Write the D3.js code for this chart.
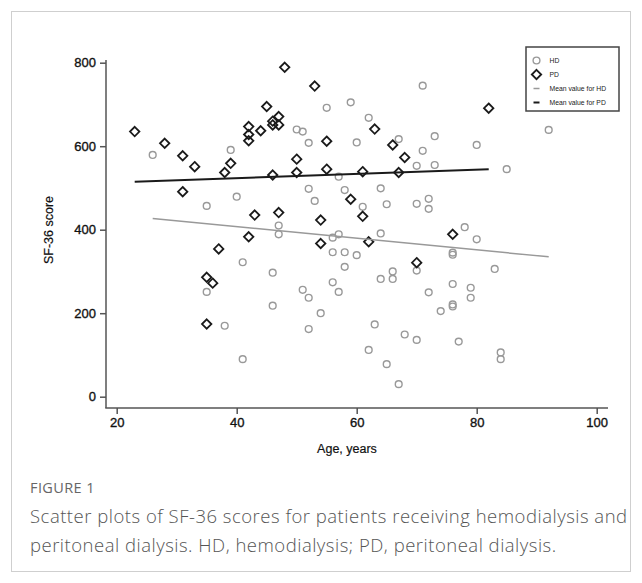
<!DOCTYPE html>
<html>
<head>
<meta charset="utf-8">
<script src="https://cdn.jsdelivr.net/npm/d3@7"></script>
<style>
  body { margin: 0; background: #fff; }
  svg text { font-family: "Liberation Sans", Arial, sans-serif; }
</style>
</head>
<body>
<div class="chart"></div>
<script>
// data: [age, SF-36 score]
let hdPoints = [
  [26,579],[39,591],[40,479],[35,457],[71,745],[59,705],[55,692],[62,668],[50,640],[51,635],
  [52,608],[60,609],[67,617],[71,589],[70,553],[57,527],[52,498],[58,495],[64,499],[53,469],
  [61,455],[65,461],[70,462],[92,639],[73,624],[80,603],[73,555],[85,545],[72,474],[72,450],
  [41,322],[35,251],[38,170],[41,90],[47,410],[47,389],[56,381],[57,389],[64,391],[56,346],
  [58,346],[60,339],[58,311],[46,297],[66,300],[64,282],[66,282],[70,302],[56,274],[57,251],
  [51,256],[52,237],[46,218],[54,200],[52,162],[63,173],[68,149],[70,136],[62,112],[65,78],
  [67,30],[78,406],[80,377],[76,345],[76,340],[83,306],[76,270],[79,261],[79,237],[72,250],
  [74,205],[76,221],[76,216],[77,132],[84,106],[84,90]
];
let pdPoints = [
  [23,635],[28,607],[31,577],[33,551],[38,537],[39,559],[42,647],[42,628],[42,613],[44,637],
  [31,491],[43,435],[48,789],[53,744],[45,695],[47,671],[46,660],[47,651],[46,651],[55,612],
  [63,641],[66,603],[68,573],[50,569],[50,537],[46,531],[55,545],[61,539],[67,537],[59,473],
  [47,441],[54,423],[61,432],[82,691],[42,383],[37,354],[35,286],[36,272],[35,174],[54,367],
  [62,371],[70,321],[76,389]
];
// mean value lines (start and end)
let hdMean = [[26,427],[92,335]];
let pdMean = [[23,515],[82,545]];

let xTicks = [20, 40, 60, 80, 100];
let yTicks = [0, 200, 400, 600, 800];
let legendLabels = ["HD", "PD", "Mean value for HD", "Mean value for PD"];

let svgW = 642;
let svgH = 583;

let svg = d3.select(".chart")
  .append("svg")
  .attr("width", svgW)
  .attr("height", svgH);

// light frame around the figure panel
svg.append("rect")
  .attr("x", 11.5).attr("y", 11.5)
  .attr("width", 619).attr("height", 560)
  .attr("fill", "none")
  .attr("stroke", "#cfcfcf");

let x = d3.scaleLinear().domain([20, 100]).range([116.7, 596.7]);
let y = d3.scaleLinear().domain([0, 800]).range([396.7, 62.7]);

let axisColor = "#555";
let axisLeftX = 106;
let axisBottomY = 408;

// y axis
let yAxis = svg.append("g")
  .attr("transform", `translate(${axisLeftX},0)`)
  .call(d3.axisLeft(y).tickValues(yTicks).tickSize(6).tickPadding(4));
// x axis
let xAxis = svg.append("g")
  .attr("transform", `translate(0,${axisBottomY})`)
  .call(d3.axisBottom(x).tickValues(xTicks).tickSize(6).tickPadding(4));

[xAxis, yAxis].forEach(function(g) {
  g.select(".domain").remove();
  g.selectAll(".tick line").attr("stroke", axisColor).attr("stroke-width", 1.5);
  g.selectAll(".tick text")
    .style("font-family", "'Liberation Sans', Arial, sans-serif")
    .style("font-size", "13px")
    .attr("fill", "#111")
    .attr("stroke", "#111")
    .attr("stroke-width", 0.35);
});

// axis lines (they meet below the zero tick)
svg.append("line")
  .attr("x1", axisLeftX).attr("x2", axisLeftX)
  .attr("y1", 60).attr("y2", axisBottomY)
  .attr("stroke", axisColor).attr("stroke-width", 1.5);
svg.append("line")
  .attr("x1", axisLeftX - 0.75).attr("x2", 608)
  .attr("y1", axisBottomY).attr("y2", axisBottomY)
  .attr("stroke", axisColor).attr("stroke-width", 1.5);

// axis titles
svg.append("text")
  .attr("x", 347).attr("y", 453)
  .attr("text-anchor", "middle")
  .style("font-size", "12.5px")
  .attr("fill", "#111")
  .attr("stroke", "#111").attr("stroke-width", 0.2)
  .text("Age, years");

svg.append("text")
  .attr("transform", "rotate(-90)")
  .attr("x", -230).attr("y", 53)
  .attr("text-anchor", "middle")
  .style("font-size", "12.5px")
  .attr("fill", "#111")
  .attr("stroke", "#111").attr("stroke-width", 0.2)
  .text("SF-36 score");

// HD markers: hollow grey circles
svg.append("g").selectAll("circle")
  .data(hdPoints)
  .enter()
  .append("circle")
  .attr("cx", d => x(d[0]))
  .attr("cy", d => y(d[1]))
  .attr("r", 3.4)
  .attr("fill", "none")
  .attr("stroke", "#999")
  .attr("stroke-width", 1.4);

// PD markers: hollow black diamonds
let diamond = "M0,-4.7L4.7,0L0,4.7L-4.7,0Z";
svg.append("g").selectAll("path")
  .data(pdPoints)
  .enter()
  .append("path")
  .attr("d", diamond)
  .attr("transform", d => `translate(${x(d[0])},${y(d[1])})`)
  .attr("fill", "none")
  .attr("stroke", "#1a1a1a")
  .attr("stroke-width", 1.8);

// mean lines
let line = d3.line().x(d => x(d[0])).y(d => y(d[1]));
svg.append("path").datum(hdMean)
  .attr("d", line)
  .attr("stroke", "#999").attr("stroke-width", 1.5).attr("fill", "none");
svg.append("path").datum(pdMean)
  .attr("d", line)
  .attr("stroke", "#1a1a1a").attr("stroke-width", 2).attr("fill", "none");

// legend
let legend = svg.append("g").attr("transform", "translate(526,47)");
legend.append("rect")
  .attr("width", 93).attr("height", 64)
  .attr("fill", "#fff")
  .attr("stroke", "#444").attr("stroke-width", 1.5);

let legendItems = legend.selectAll("g.item")
  .data(legendLabels)
  .enter()
  .append("g")
  .attr("class", "item")
  .attr("transform", (d, i) => `translate(10.5,${13.5 + i * 14})`);

legendItems.each(function(d, i) {
  let g = d3.select(this);
  if (i === 0) {
    g.append("circle").attr("r", 3.4).attr("fill", "none")
      .attr("stroke", "#999").attr("stroke-width", 1.4);
  } else if (i === 1) {
    g.append("path").attr("d", diamond).attr("fill", "none")
      .attr("stroke", "#1a1a1a").attr("stroke-width", 1.8);
  } else {
    g.append("line").attr("x1", -3).attr("x2", 3)
      .attr("stroke", i === 2 ? "#999" : "#1a1a1a")
      .attr("stroke-width", i === 2 ? 1.5 : 2);
  }
  g.append("text")
    .attr("x", 13).attr("y", 2.3)
    .style("font-size", "6.8px")
    .attr("fill", "#222")
    .text(d);
});

// caption
svg.append("text")
  .attr("x", 30).attr("y", 493)
  .style("font-family", "'Open Sans', sans-serif")
  .style("font-size", "14.5px")
  .style("letter-spacing", "0.4px")
  .attr("fill", "#666")
  .text("FIGURE 1");

let captionLines = [
  "Scatter plots of SF-36 scores for patients receiving hemodialysis and",
  "peritoneal dialysis. HD, hemodialysis; PD, peritoneal dialysis."
];
svg.selectAll("text.caption")
  .data(captionLines)
  .enter()
  .append("text")
  .attr("class", "caption")
  .attr("x", 30)
  .attr("y", (d, i) => 523 + i * 29)
  .style("font-family", "'Open Sans', sans-serif")
  .style("font-size", "18.5px")
  .style("font-weight", 300)
  .style("letter-spacing", "0.5px")
  .attr("fill", "#555")
  .text(d => d);
</script>
</body>
</html>
